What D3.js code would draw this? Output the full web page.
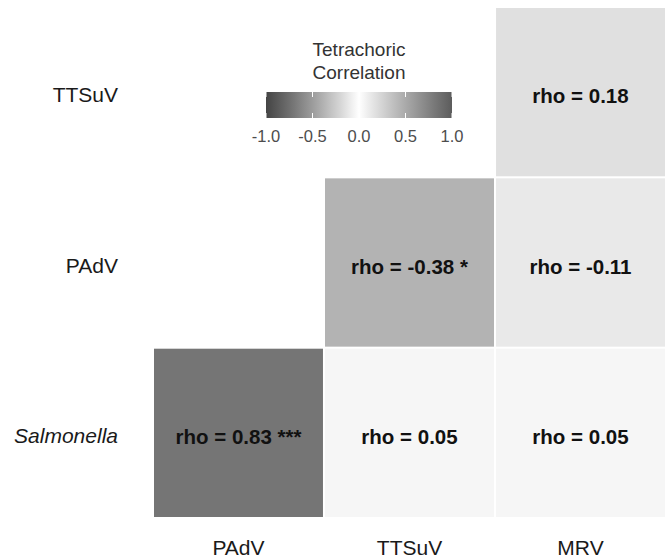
<!DOCTYPE html>
<html>
<head>
<meta charset="utf-8">
<script src="https://cdn.jsdelivr.net/npm/d3@7"></script>
<style>
  body { margin: 0; background: #fff; }
  svg { font-family: "Liberation Sans", Arial, sans-serif; display: block; }
</style>
</head>
<body>
<div id="chart"></div>
<script>
// Tetrachoric correlation matrix (lower triangle)
const rowVars = ["TTSuV", "PAdV", "Salmonella"];
const colVars = ["PAdV", "TTSuV", "MRV"];
const cellRows = ["Salmonella", "Salmonella", "Salmonella", "PAdV", "PAdV", "TTSuV"];
const cellCols = ["PAdV", "TTSuV", "MRV", "TTSuV", "MRV", "MRV"];
const rhoValues = [0.83, 0.05, 0.05, -0.38, -0.11, 0.18];
const signifStars = ["***", "", "", "*", "", ""];
const legendTicks = [-1.0, -0.5, 0.0, 0.5, 1.0];

const width = 667, height = 560;

const svg = d3.select("#chart").append("svg")
  .attr("width", width)
  .attr("height", height);

const x = d3.scaleBand().domain(colVars).range([154, 665]).paddingInner(0.012);
const y = d3.scaleBand().domain(rowVars).range([8, 517]).paddingInner(0.012);

// grey - white - grey, interpolated in Lab
const fill = d3.scaleLinear()
  .domain([-1, 0, 1])
  .range(["#444444", "#ffffff", "#5c5c5c"])
  .interpolate(d3.interpolateLab);

const cells = cellRows.map((r, i) => ({
  row: r, col: cellCols[i], rho: rhoValues[i], stars: signifStars[i]
}));

const g = svg.append("g");

g.selectAll("rect.cell")
  .data(cells)
  .enter()
  .append("rect")
  .attr("class", "cell")
  .attr("x", d => x(d.col))
  .attr("y", d => y(d.row))
  .attr("width", x.bandwidth())
  .attr("height", y.bandwidth())
  .attr("fill", d => fill(d.rho));

g.selectAll("text.cell-label")
  .data(cells)
  .enter()
  .append("text")
  .attr("class", "cell-label")
  .attr("x", d => x(d.col) + x.bandwidth() / 2)
  .attr("y", d => y(d.row) + y.bandwidth() / 2 + 11)
  .attr("text-anchor", "middle")
  .attr("font-size", 20.5)
  .attr("font-weight", "bold")
  .attr("fill", "#111")
  .text(d => `rho = ${d.rho.toFixed(2)}` + (d.stars ? " " + d.stars : ""));

// row labels
svg.selectAll("text.row-label")
  .data(rowVars)
  .enter()
  .append("text")
  .attr("class", "row-label")
  .attr("x", 118)
  .attr("y", d => y(d) + y.bandwidth() / 2 + 10)
  .attr("text-anchor", "end")
  .attr("font-size", 21)
  .attr("font-style", d => d === "Salmonella" ? "italic" : "normal")
  .attr("fill", "#1a1a1a")
  .text(d => d);

// column labels
svg.selectAll("text.col-label")
  .data(colVars)
  .enter()
  .append("text")
  .attr("class", "col-label")
  .attr("x", d => x(d) + x.bandwidth() / 2)
  .attr("y", 555)
  .attr("text-anchor", "middle")
  .attr("font-size", 21)
  .attr("fill", "#1a1a1a")
  .text(d => d);

// legend
const legend = svg.append("g");
const lx = d3.scaleLinear().domain([-1, 1]).range([266, 452]);

legend.append("text")
  .attr("x", 359).attr("y", 56)
  .attr("text-anchor", "middle")
  .attr("font-size", 19)
  .attr("fill", "#333")
  .text("Tetrachoric");
legend.append("text")
  .attr("x", 359).attr("y", 79)
  .attr("text-anchor", "middle")
  .attr("font-size", 19)
  .attr("fill", "#333")
  .text("Correlation");

const grad = svg.append("defs").append("linearGradient")
  .attr("id", "legendGrad")
  .attr("x1", "0%").attr("x2", "100%");
d3.range(0, 1.0001, 0.05).forEach(t => {
  grad.append("stop")
    .attr("offset", `${t * 100}%`)
    .attr("stop-color", fill(-1 + 2 * t));
});

legend.append("rect")
  .attr("x", lx(-1)).attr("y", 92)
  .attr("width", lx(1) - lx(-1)).attr("height", 26)
  .attr("fill", "url(#legendGrad)");

legend.selectAll("line.tick-top")
  .data(legendTicks)
  .enter()
  .append("line")
  .attr("x1", d => lx(d)).attr("x2", d => lx(d))
  .attr("y1", 92).attr("y2", 97)
  .attr("stroke", "#fff").attr("stroke-width", 1);
legend.selectAll("line.tick-bot")
  .data(legendTicks)
  .enter()
  .append("line")
  .attr("x1", d => lx(d)).attr("x2", d => lx(d))
  .attr("y1", 113).attr("y2", 118)
  .attr("stroke", "#fff").attr("stroke-width", 1);

legend.selectAll("text.tick-label")
  .data(legendTicks)
  .enter()
  .append("text")
  .attr("x", d => lx(d))
  .attr("y", 142)
  .attr("text-anchor", "middle")
  .attr("font-size", 16.5)
  .attr("fill", "#4d4d4d")
  .text(d => d.toFixed(1));
</script>
</body>
</html>
